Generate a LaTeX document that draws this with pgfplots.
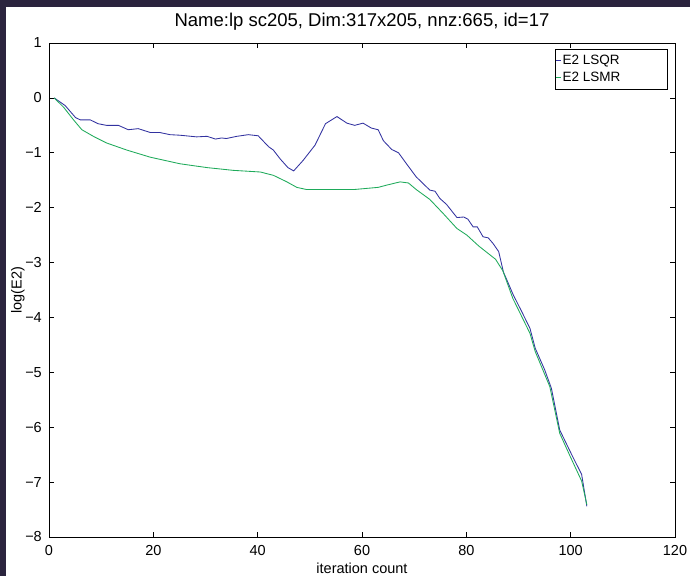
\documentclass[border=0pt]{standalone}
\usepackage{fontspec}
\setmainfont{Liberation Sans}
\usepackage{pgfplots}
\pgfplotsset{compat=1.18}
\definecolor{frame}{RGB}{43,36,62}
\definecolor{lsqr}{RGB}{50,50,160}
\definecolor{lsmr}{RGB}{30,170,90}
\begin{document}
\begin{tikzpicture}
\useasboundingbox (0pt,0pt) rectangle (690pt,576pt);
\fill[frame] (0pt,0pt) rectangle (690pt,576pt);
\fill[white] (6pt,0pt) rectangle (690pt,569pt);
\begin{axis}[
  at={(49pt,39pt)}, anchor=south west,
  scale only axis, width=626pt, height=494pt,
  xmin=0, xmax=120, ymin=-8, ymax=1,
  xtick={0,20,...,120},
  ytick={-8,-7,-6,-5,-4,-3,-2,-1,0,1},
  yticklabels={−8,−7,−6,−5,−4,−3,−2,−1,0,1},
  /pgf/number format/assume math mode=true,
  tick align=inside, xtick pos=both, ytick pos=both,
  xticklabel pos=lower, yticklabel pos=left,
  major tick length=5pt,
  axis line style={line width=0.7pt},
  every tick/.style={black, line width=0.6pt},
  ticklabel style={font=\fontsize{14.5}{17}\selectfont},
  xticklabel style={anchor=base, yshift=-18pt, inner sep=0pt},
  yticklabel style={anchor=east, xshift=-7pt, inner sep=0pt},
  title={Name:lp sc205, Dim:317x205, nnz:665, id=17},
  title style={at={(0.5,1)}, anchor=base, yshift=11pt, font=\fontsize{18.5}{22}\selectfont},
  xlabel={iteration count},
  xlabel style={at={(0.5,0)}, anchor=base, yshift=-36pt, font=\fontsize{14.5}{17}\selectfont},
  ylabel={log(E2)},
  ylabel style={at={(0,0.5)}, anchor=center, yshift=31pt, font=\fontsize{14.5}{17}\selectfont},
  legend style={at={(1,1)}, anchor=north east, xshift=-7pt, yshift=-6pt,
    draw=black, line width=0.7pt, inner xsep=0pt, inner ysep=3pt,
    font=\fontsize{13.5}{16}\selectfont, row sep=0pt,
    nodes={inner xsep=1pt, inner ysep=3pt}},
  legend cell align=left,
  legend image code/.code={\draw[#1] (0pt,0pt) -- (5pt,0pt);},
]
\addplot[lsqr, line width=0.85pt] coordinates {
(1,0) (3.1,-0.14) (5.1,-0.36) (6.0,-0.40) (7.9,-0.40) (9.4,-0.47) (11.0,-0.50)
(13.3,-0.50) (15.2,-0.58) (17.1,-0.56) (19.4,-0.63) (21.2,-0.63) (23.2,-0.67)
(25.1,-0.68) (28.3,-0.71) (30.3,-0.70) (31.9,-0.75) (33.1,-0.73) (34.0,-0.74)
(36.0,-0.70) (38.2,-0.67) (40.1,-0.69) (42.1,-0.89) (43.0,-0.95) (44.3,-1.11)
(45.8,-1.27) (46.9,-1.33) (48.7,-1.14) (51.0,-0.86) (53.0,-0.47) (55.2,-0.34)
(57.1,-0.46) (58.6,-0.50) (60.2,-0.46) (61.8,-0.55) (63.1,-0.58) (64.1,-0.78)
(65.7,-0.94) (67.0,-1.00) (68.6,-1.21) (70.4,-1.44) (73.0,-1.68) (74.0,-1.70)
(74.9,-1.83) (76.2,-1.94) (78.2,-2.18) (79.5,-2.17) (80.3,-2.21) (81.3,-2.35)
(82.1,-2.35) (83.2,-2.53) (84.2,-2.55) (85.1,-2.65) (86.2,-2.80) (87.1,-3.17)
(89.0,-3.59) (90.6,-3.89) (92.2,-4.20) (93.2,-4.56) (95.0,-4.95) (96.3,-5.29)
(97.9,-6.05) (100.2,-6.50) (102.1,-6.86) (103.1,-7.44)
};
\addlegendentry{\makebox[104pt][l]{E2 LSQR}}
\addplot[lsmr, line width=0.85pt] coordinates {
(1,0) (2.8,-0.17) (4.7,-0.40) (6.3,-0.58) (8.5,-0.70) (11.0,-0.82) (14.9,-0.95)
(19.4,-1.08) (25.1,-1.20) (30.3,-1.27) (35.3,-1.32) (40.5,-1.35) (43.0,-1.41)
(45.6,-1.53) (47.5,-1.63) (49.4,-1.67) (58.4,-1.67) (63.1,-1.63) (64.7,-1.59)
(67.3,-1.53) (68.9,-1.55) (70.4,-1.67) (73.0,-1.85) (75.6,-2.11) (78.2,-2.38)
(80.1,-2.50) (82.4,-2.70) (85.6,-2.94) (87.0,-3.15) (88.9,-3.65) (92.2,-4.29)
(93.2,-4.62) (96.0,-5.26) (97.9,-6.11) (99.9,-6.53) (102.1,-6.98) (103.1,-7.41)
};
\addlegendentry{\makebox[104pt][l]{E2 LSMR}}
\end{axis}
\end{tikzpicture}
\end{document}
